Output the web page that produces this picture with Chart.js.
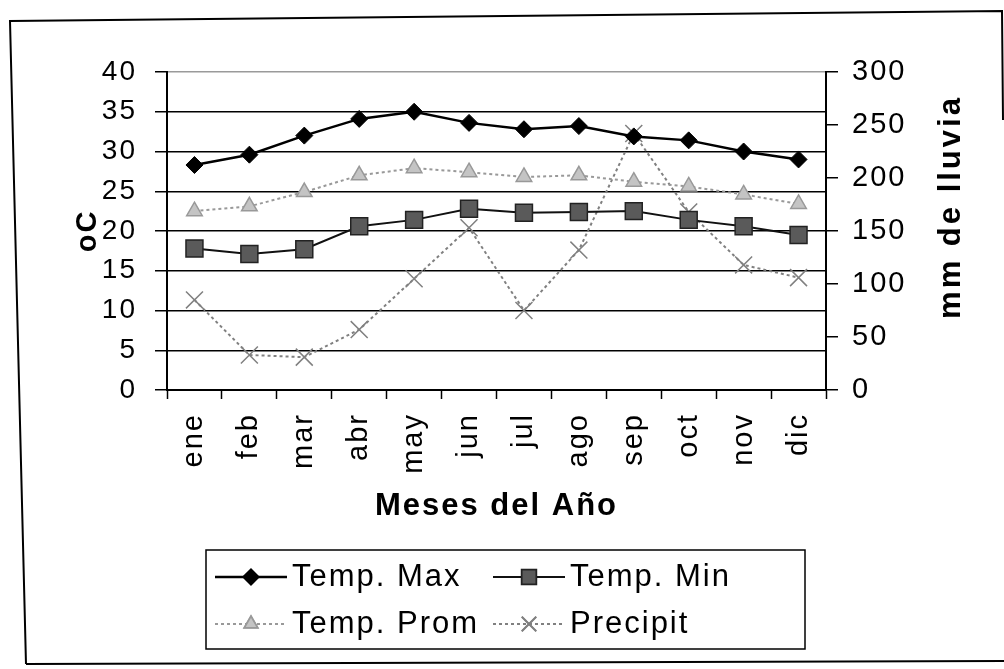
<!DOCTYPE html>
<html lang="es">
<head>
<meta charset="utf-8">
<script src="https://cdn.jsdelivr.net/npm/chart.js@4"></script>
<style>
  body { margin: 0; background: #fff; }
</style>
</head>
<body>
<canvas id="clima" width="1004" height="669"></canvas>
<script>
  // Meses y datos
  const meses = ["ene", "feb", "mar", "abr", "may", "jun", "jul", "ago", "sep", "oct", "nov", "dic"];
  const tempMax = [28.3, 29.6, 32, 34.1, 35, 33.6, 32.8, 33.2, 31.9, 31.4, 30, 29];
  const tempMin = [17.8, 17.1, 17.7, 20.6, 21.4, 22.8, 22.3, 22.4, 22.5, 21.4, 20.6, 19.5];
  const tempProm = [22.5, 23.1, 24.9, 27, 27.9, 27.4, 26.8, 27, 26.2, 25.6, 24.6, 23.4];
  const precipit = [85, 33, 31, 57, 105, 153, 75, 132, 242, 168, 118, 106];
  const ticksTemp = [0, 5, 10, 15, 20, 25, 30, 35, 40];
  const ticksLluvia = [0, 50, 100, 150, 200, 250, 300];

  const FONT = "'Liberation Sans', Arial, sans-serif";

  // espaciado de letras como en el original
  const spacing = {
    id: "spacing",
    beforeUpdate(c) { c.ctx.letterSpacing = "2px"; },
    beforeDraw(c) { c.ctx.letterSpacing = "2px"; }
  };

  // leyenda en recuadro, marco exterior y título del eje derecho
  const extras = {
    id: "extras",
    afterDraw(chart) {
      const ctx = chart.ctx;
      ctx.save();

      // marco exterior
      ctx.strokeStyle = "#000";
      ctx.lineWidth = 2;
      ctx.beginPath();
      ctx.moveTo(26, 664);
      ctx.lineTo(10, 21);
      ctx.lineTo(1002, 11);
      ctx.lineTo(1003, 120);
      ctx.moveTo(26, 664);
      ctx.lineTo(1004, 661);
      ctx.stroke();

      // título eje derecho
      ctx.save();
      ctx.letterSpacing = "3px";
      ctx.translate(951, 207);
      ctx.rotate(-Math.PI / 2);
      ctx.font = "bold 31px " + FONT;
      ctx.fillStyle = "#000";
      ctx.textAlign = "center";
      ctx.textBaseline = "middle";
      ctx.fillText("mm de lluvia", 0, 0);
      ctx.restore();

      // caja de la leyenda
      ctx.lineWidth = 1.5;
      ctx.strokeRect(206, 550, 599, 99);
      const pos = [[215, 577], [493, 577], [215, 624], [493, 624]];
      chart.data.datasets.forEach((ds, k) => {
        const [x, y] = pos[k];
        ctx.save();
        ctx.strokeStyle = ds.borderColor;
        ctx.lineWidth = ds.borderWidth;
        ctx.setLineDash(ds.borderDash || []);
        ctx.beginPath();
        ctx.moveTo(x, y);
        ctx.lineTo(x + 72, y);
        ctx.stroke();
        ctx.setLineDash([]);
        Chart.helpers.drawPoint(ctx, {
          pointStyle: ds.pointStyle,
          radius: ds.pointRadius * 0.85,
          rotation: 0,
          borderWidth: ds.pointBorderWidth
        }, x + 36, y);
        ctx.fillStyle = ds.pointBackgroundColor;
        ctx.strokeStyle = ds.pointBorderColor;
        ctx.lineWidth = ds.pointBorderWidth;
        ctx.fill();
        ctx.stroke();
        ctx.restore();
        ctx.letterSpacing = "2px";
        ctx.font = "31px " + FONT;
        ctx.fillStyle = "#000";
        ctx.textAlign = "left";
        ctx.textBaseline = "middle";
        ctx.fillText(ds.label, x + 77, y);
      });
      ctx.restore();
    }
  };

  const data = {
    labels: meses,
    datasets: [
      {
        label: "Temp. Max",
        data: tempMax,
        borderColor: "#000",
        borderWidth: 2.5,
        pointStyle: "rectRot",
        pointRadius: 8.5,
        pointBackgroundColor: "#000",
        pointBorderColor: "#000",
        pointBorderWidth: 1,
        yAxisID: "y"
      },
      {
        label: "Temp. Min",
        data: tempMin,
        borderColor: "#111",
        borderWidth: 2,
        pointStyle: "rect",
        pointRadius: 12,
        pointBackgroundColor: "#5a5a5a",
        pointBorderColor: "#222",
        pointBorderWidth: 1.5,
        yAxisID: "y"
      },
      {
        label: "Temp. Prom",
        data: tempProm,
        borderColor: "#999",
        borderWidth: 2,
        borderDash: [3, 3],
        pointStyle: "triangle",
        pointRadius: 9,
        pointBackgroundColor: "#c4c4c4",
        pointBorderColor: "#999",
        pointBorderWidth: 1.5,
        yAxisID: "y"
      },
      {
        label: "Precipit",
        data: precipit,
        borderColor: "#808080",
        borderWidth: 2,
        borderDash: [3, 3],
        pointStyle: "crossRot",
        pointRadius: 12,
        pointBackgroundColor: "#808080",
        pointBorderColor: "#808080",
        pointBorderWidth: 1.5,
        yAxisID: "y1"
      }
    ]
  };

  const config = {
    type: "line",
    data: data,
    options: {
      responsive: false,
      animation: false,
      layout: { padding: { top: 72, left: 0, right: 0, bottom: 0 } },
      plugins: {
        legend: { display: false },
        tooltip: { enabled: false }
      },
      elements: { line: { tension: 0 } },
      scales: {
        x: {
          offset: true,
          afterFit: (s) => { s.height = 279; },
          grid: {
            offset: true,
            drawOnChartArea: false,
            tickLength: 9,
            tickColor: "#000",
            tickWidth: 1.5
          },
          border: { color: "#000", width: 2 },
          ticks: {
            minRotation: 90,
            maxRotation: 90,
            padding: 14,
            color: "#000",
            font: { family: FONT, size: 29 }
          },
          title: {
            display: true,
            text: "Meses del Año",
            color: "#000",
            font: { family: FONT, size: 31, weight: "bold" },
            padding: { top: 0, bottom: 144 }
          }
        },
        y: {
          position: "left",
          min: 0,
          max: 40,
          afterFit: (s) => { s.width = 167; },
          afterBuildTicks: (s) => { s.ticks = ticksTemp.map(v => ({ value: v })); },
          grid: {
            color: (c) => (c.tick && c.tick.value === 40 ? "#9a9a9a" : "#000"),
            lineWidth: 1.5,
            tickColor: "#000",
            tickLength: 12
          },
          border: { color: "#000", width: 2 },
          ticks: {
            padding: 18,
            color: "#000",
            font: { family: FONT, size: 28 }
          },
          title: {
            display: true,
            text: "oC",
            color: "#000",
            font: { family: FONT, size: 29, weight: "bold" },
            padding: { top: 71, bottom: 0 }
          }
        },
        y1: {
          position: "right",
          min: 0,
          max: 300,
          afterFit: (s) => { s.width = 178; },
          afterBuildTicks: (s) => { s.ticks = ticksLluvia.map(v => ({ value: v })); },
          grid: {
            drawOnChartArea: false,
            tickColor: "#000",
            tickLength: 12,
            lineWidth: 1.5
          },
          border: { color: "#000", width: 2 },
          ticks: {
            padding: 14,
            color: "#000",
            font: { family: FONT, size: 29 }
          }
        }
      }
    },
    plugins: [spacing, extras]
  };

  new Chart(document.getElementById("clima").getContext("2d"), config);
</script>
</body>
</html>
